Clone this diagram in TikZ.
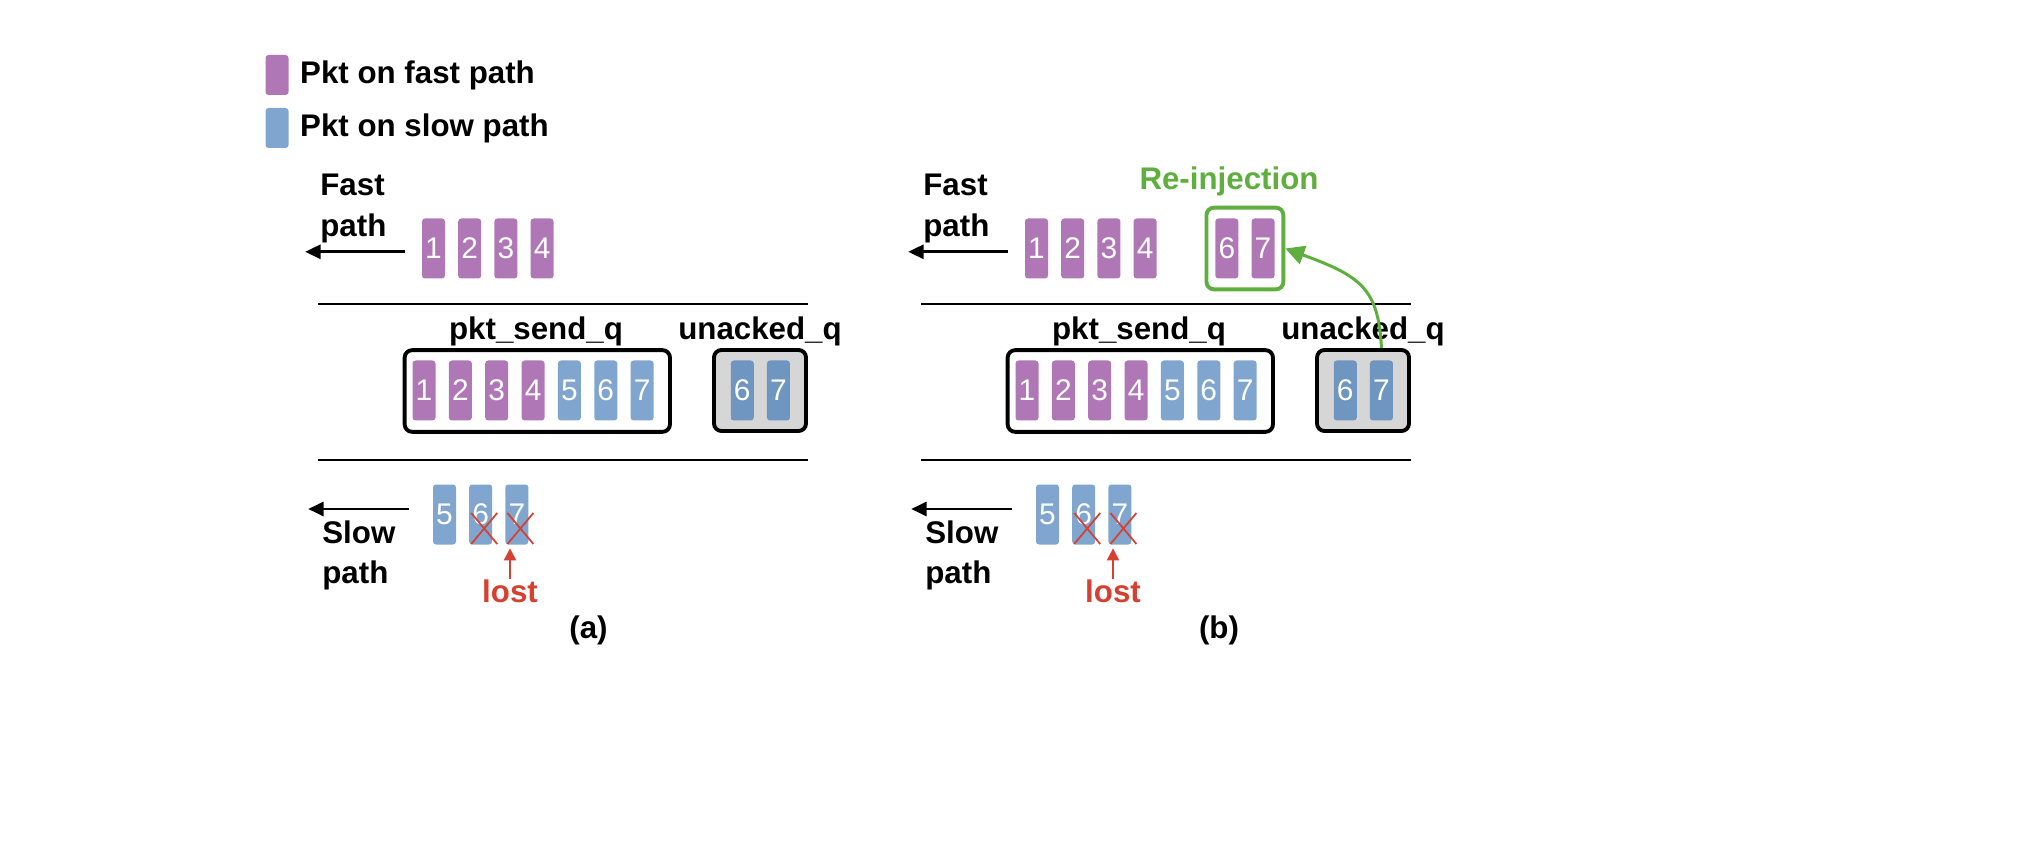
\documentclass[tikz,border=0pt]{standalone}
\usepackage{fontspec}
\setmainfont{Liberation Sans}
\usepackage{tikz}
\usetikzlibrary{arrows.meta,positioning,calc,fit}
\definecolor{fastc}{HTML}{B077B6}
\definecolor{slowc}{HTML}{80A6CF}
\definecolor{ackc}{HTML}{6E96C0}
\definecolor{ackbg}{HTML}{D6D6D6}
\definecolor{reinjc}{HTML}{5EAF3E}
\definecolor{lostc}{HTML}{D64030}
\tikzset{
  >={Triangle[length=3.1mm, width=2.8mm]},
  lbl/.style={font=\bfseries\fontsize{17.8}{23.3}\selectfont, inner sep=0pt, align=left},
  pkt/.style={rectangle, rounded corners=0.6mm, fill=#1, minimum width=4.6mm, minimum height=12mm,
    inner sep=0pt, text=white, font=\fontsize{17}{20}\selectfont},
  pkt/.default=fastc,
  qbox/.style={draw, line width=2.2pt, rounded corners=1.5mm},
  lane/.style={line width=1.5pt},
  conn/.style={->, line width=1.7pt},
  lostconn/.style={-{Triangle[length=2.4mm, width=2.4mm]}, draw=lostc, line width=1.15pt},
  lostx/.style={draw=lostc, line width=1pt},
  reinj/.style={-{Triangle[length=3.8mm, width=3.8mm]}, draw=reinjc, line width=1.7pt},
}

\begin{document}
\begin{tikzpicture}
  \useasboundingbox (0,0) rectangle (40.48,16.88);

  % legend
  \node[pkt=fastc, minimum height=8mm] (lfast) at (5.54,15.38) {};
  \node[pkt=slowc, minimum height=8mm] (lslow) at (5.54,14.32) {};
  \node[lbl, right=2.2mm of lfast] (lfastt) {Pkt on fast path};
  \node[lbl, right=2.2mm of lslow] (lslowt) {Pkt on slow path};

  % both panels
  \foreach \p/\dx in {a/0, b/12.06} {
  \begin{scope}[xshift=\dx cm]
    % fast path
    \node[lbl, anchor=north west] (\p-fastl) at (6.4,13.4) {Fast\\path};
    \node[pkt=fastc] (\p-f1) at (8.67,11.91) {1};
    \foreach \n [remember=\n as \m (initially 1)] in {2,3,4}
      \node[pkt=fastc, right=2.5mm of \p-f\m] (\p-f\n) {\n};
    \coordinate[left=3.3mm of \p-f1, yshift=-0.66mm] (\p-fin);
    \coordinate[left=23.3mm of \p-f1, yshift=-0.66mm] (\p-fout);
    \draw[conn] (\p-fin) -- (\p-fout);

    % queues
    \draw[lane] (6.36,10.8) -- (16.15,10.8);
    \draw[lane] (6.36,7.68) -- (16.15,7.68);
    \node[lbl, anchor=base] (\p-sendl) at (10.72,10.08) {pkt\_send\_q};
    \node[lbl, anchor=base] (\p-ackl) at (15.2,10.08) {unacked\_q};
    \node[pkt=fastc] (\p-q1) at (8.48,9.07) {1};
    \foreach \n/\c [remember=\n as \m (initially 1)] in {2/fastc,3/fastc,4/fastc,5/slowc,6/slowc,7/slowc}
      \node[pkt=\c, right=2.53mm of \p-q\m] (\p-q\n) {\n};
    \draw[qbox] ($(\p-q1.south west)+(-1.5mm,-2.2mm)$) rectangle ($(\p-q7.north east)+(3.2mm,2mm)$);
    \node[qbox, fill=ackbg, minimum width=18.4mm, minimum height=16.2mm] (\p-ubox) at (15.2,9.07) {};
    \node[pkt=ackc] (\p-u6) at ($(\p-ubox)+(-3.55mm,0)$) {6};
    \node[pkt=ackc, right=2.5mm of \p-u6] (\p-u7) {7};

    % slow path
    \node[lbl, anchor=north west] (\p-slowl) at (6.44,6.48) {Slow\\path};
    \node[pkt=slowc] (\p-s5) at (8.89,6.59) {5};
    \node[pkt=slowc, right=2.5mm of \p-s5] (\p-s6) {6};
    \node[pkt=slowc, right=2.5mm of \p-s6] (\p-s7) {7};
    \coordinate[left=4.8mm of \p-s5, yshift=1.1mm] (\p-sin);
    \coordinate[left=24.9mm of \p-s5, yshift=1.1mm] (\p-sout);
    \draw[conn] (\p-sin) -- (\p-sout);
    \foreach \n in {6,7}
      \draw[lostx] ($(\p-s\n)+(-1.9mm,0.3mm)$) -- ++(5.2mm,-6.2mm)
                   ($(\p-s\n)+(-1.9mm,-5.9mm)$) -- ++(5.2mm,6.2mm);
    \node[lbl, anchor=base, text=lostc] (\p-lost) at (10.2,4.83) {lost};
    \draw[lostconn] (\p-lost.north) -- ($(\p-lost.north |- \p-s7.south)+(0,-0.7mm)$);
  \end{scope}
  }

  % re-injection
  \node[pkt=fastc, right=11.6mm of b-f4] (b-r6) {6};
  \node[pkt=fastc, right=2.5mm of b-r6] (b-r7) {7};
  \node[qbox, draw=reinjc, fit=(b-r6)(b-r7), inner xsep=1.7mm, inner ysep=2.1mm] (b-rbox) {};
  \node[lbl, anchor=base, text=reinjc] (b-reinjl) at (24.58,13.08) {Re-injection};
  \draw[reinj] (b-u7 |- b-ubox.north) .. controls +(-0.06,1.2) and +(1.5,-0.55) .. (b-rbox.east);

  % captions
  \node[lbl, anchor=base] (capa) at (11.77,4.12) {(a)};
  \node[lbl, anchor=base] (capb) at (24.38,4.12) {(b)};
\end{tikzpicture}
\end{document}
